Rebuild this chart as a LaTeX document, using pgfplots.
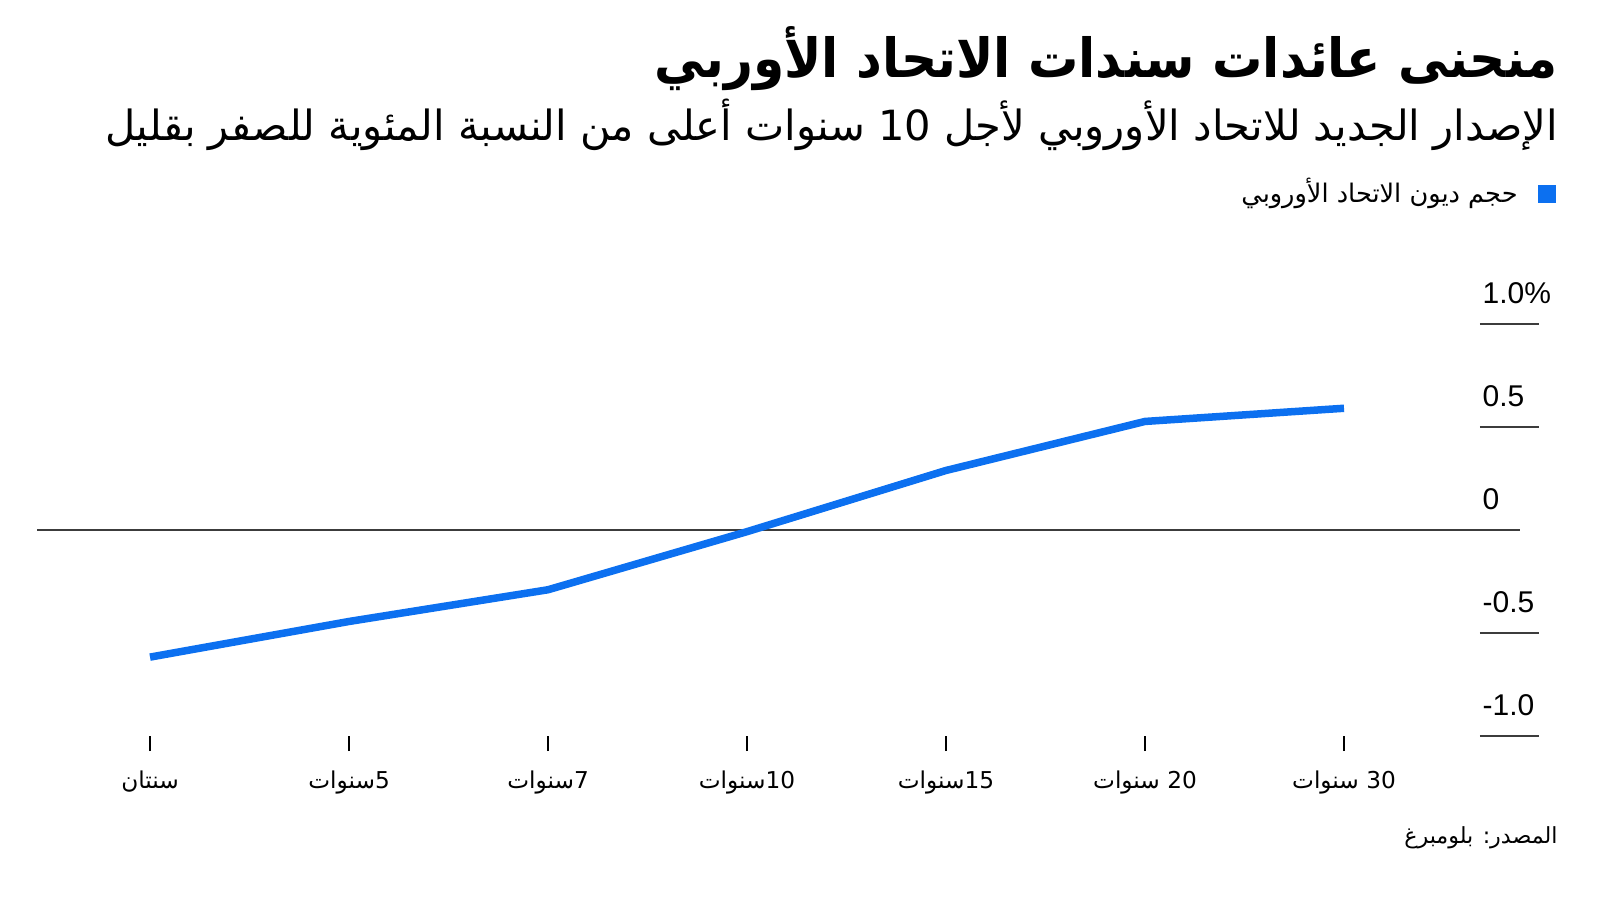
\documentclass[border=0pt]{standalone}
\usepackage{fontspec}
\usepackage{pgfplots}
\pgfplotsset{compat=1.18}
\TeXXeTstate=1
\setmainfont{Liberation Sans}
\newfontfamily\arabicfont[Script=Arabic]{DejaVu Sans}
\newfontfamily\arabictitle[Script=Arabic, FakeStretch=0.93]{DejaVu Sans Bold}
\definecolor{eublue}{RGB}{12,112,240}
\definecolor{gridc}{RGB}{60,60,60}
\begin{document}
\begin{tikzpicture}[x=1pt,y=1pt]
\useasboundingbox (0,0) rectangle (800,-450);
% title
\node[anchor=base east, inner sep=0] at (779,-38.5) {\arabictitle\fontsize{27}{27}\selectfont\beginR منحنى عائدات سندات الاتحاد الأوربي\endR};
% subtitle
\node[anchor=base east, inner sep=0] at (779,-70) {\arabicfont\fontsize{20.8}{20.8}\selectfont\beginR الإصدار الجديد للاتحاد الأوروبي لأجل \beginL 10\endL{} سنوات أعلى من النسبة المئوية للصفر بقليل\endR};
% legend
\fill[eublue] (769,-92.5) rectangle (778,-101.5);
\node[anchor=base east, inner sep=0] at (759,-101) {\arabicfont\fontsize{12.8}{12.8}\selectfont\beginR حجم ديون الاتحاد الأوروبي\endR};
% source
\node[anchor=base east, inner sep=0] at (779,-421.5) {\arabicfont\fontsize{11.1}{11.1}\selectfont\beginR المصدر: بلومبرغ\endR};
\begin{axis}[
  at={(18.5pt,-368pt)}, anchor=south west,
  scale only axis, width=751pt, height=206pt,
  xmin=-0.568, xmax=6.98, ymin=-1.0, ymax=1.0,
  clip=false,
  axis y line=none,
  axis x line*=bottom,
  x axis line style={draw=none},
  xtick={0,1,2,3,4,5,6},
  xticklabels={{\beginR سنتان\endR},{\beginR\beginL 5\endL{}سنوات\endR},{\beginR\beginL 7\endL{}سنوات\endR},{\beginR\beginL 10\endL{}سنوات\endR},{\beginR\beginL 15\endL{}سنوات\endR},{\beginR\beginL 20\endL{} سنوات\endR},{\beginR\beginL 30\endL{} سنوات\endR}},
  xticklabel style={font=\arabicfont\fontsize{11.6}{11.6}\selectfont, text=black, yshift=-6.5pt},
  tick align=outside,
  major tick length=7.5pt,
  xtick style={draw=black, line width=0.6pt},
]
\addplot[gridc, line width=0.75pt] coordinates {(-0.568,0) (6.884,0)};
\addplot[eublue, line width=3.75pt, line join=round] coordinates {
(0,-0.617) (1,-0.444) (2,-0.290) (3,-0.008) (4,0.289) (5,0.527) (6,0.591)};
\pgfplotsinvokeforeach{1,0.5,-0.5,-1}{
  \draw[gridc, line width=0.75pt] (axis cs:6.683,#1) -- (axis cs:6.98,#1);
}
\node[anchor=west, inner sep=0, yshift=15.5pt, font=\fontsize{15}{15}\selectfont] at (axis cs:6.695,1) {1.0\%};
\node[anchor=west, inner sep=0, yshift=15.5pt, font=\fontsize{15}{15}\selectfont] at (axis cs:6.695,0.5) {0.5};
\node[anchor=west, inner sep=0, yshift=15.5pt, font=\fontsize{15}{15}\selectfont] at (axis cs:6.695,0) {0};
\node[anchor=west, inner sep=0, yshift=15.5pt, font=\fontsize{15}{15}\selectfont] at (axis cs:6.695,-0.5) {-0.5};
\node[anchor=west, inner sep=0, yshift=15.5pt, font=\fontsize{15}{15}\selectfont] at (axis cs:6.695,-1) {-1.0};
\end{axis}
\end{tikzpicture}
\end{document}
